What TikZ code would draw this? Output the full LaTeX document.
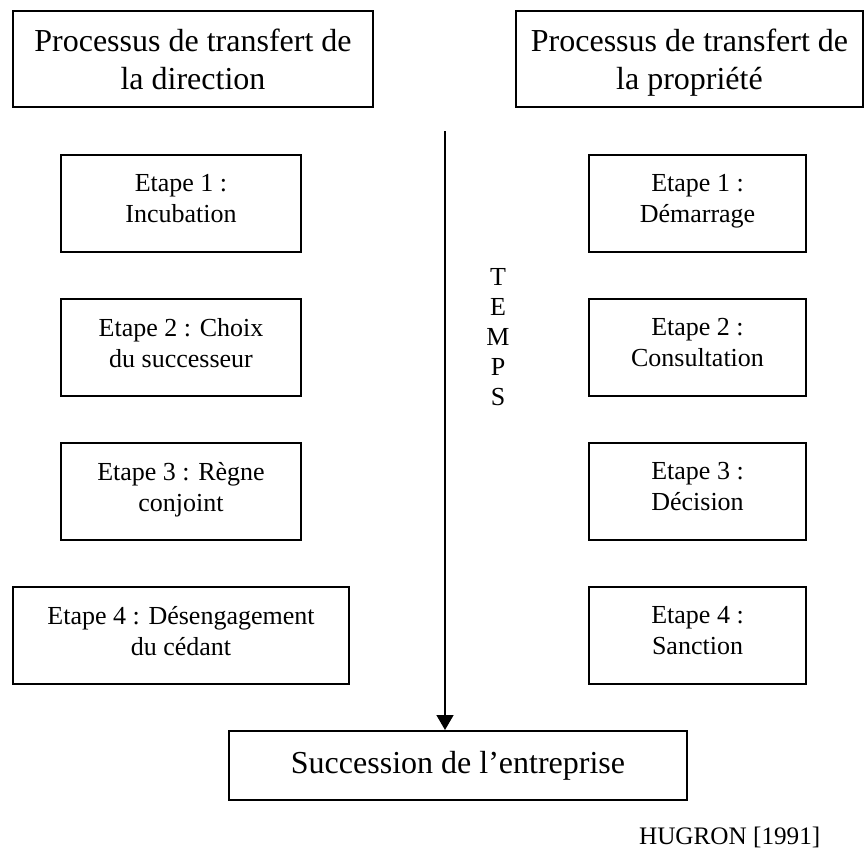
\documentclass[tikz,border=0pt]{standalone}
\usepackage{fontspec}
\setmainfont{Liberation Serif}
\usetikzlibrary{arrows.meta}
\begin{document}
\begin{tikzpicture}[x = 0.5pt, y = -0.5pt, node distance = 72pt, line width = 1pt,
    boite/.style = {draw, rectangle, align = center},
    titre/.style = {boite, minimum height = 48pt, font = \fontsize{16}{19}\selectfont, text depth = 0pt},
    etape/.style = {boite, minimum width = 120pt, minimum height = 48.5pt, font = \fontsize{13}{15.5}\selectfont,
      execute at begin node = \strut, execute at end node = \strut}]
    \useasboundingbox (0,0) rectangle (866,856);
    % les deux processus
    \node[titre, minimum width = 180pt] (dir) at (193,59) {Processus de transfert de\\la direction};
    \node[titre, minimum width = 173.5pt] (prop) at (689.5,59) {Processus de transfert de\\la propriété};
    % direction
    \node[etape] (d1) at (181,203.5) {Etape 1 :\\Incubation};
    \node[etape, below of = d1] (d2) {Etape 2 : Choix\\du successeur};
    \node[etape, below of = d2] (d3) {Etape 3 : Règne\\conjoint};
    \node[etape, below of = d3, minimum width = 168pt] (d4) {Etape 4 : Désengagement\\du cédant};
    % propriété
    \node[etape, minimum width = 108.5pt] (p1) at (697.5,203.5) {Etape 1 :\\Démarrage};
    \node[etape, below of = p1, minimum width = 108.5pt] (p2) {Etape 2 :\\Consultation};
    \node[etape, below of = p2, minimum width = 108.5pt] (p3) {Etape 3 :\\Décision};
    \node[etape, below of = p3, minimum width = 108.5pt] (p4) {Etape 4 :\\Sanction};
    % temps
    \node[boite, minimum width = 229pt, minimum height = 34.5pt, font = \fontsize{16}{19}\selectfont] (succ) at (458,765.5) {\strut Succession de l’entreprise};
    \coordinate (t0) at (445,131);
    \draw[line width = 0.75pt, -{Triangle[length = 7.5pt, width = 8.5pt]}] (t0) -- (succ.north -| t0);
    \node[align = center, font = \fontsize{13}{15}\selectfont] (temps) at (498,337) {T\\E\\M\\P\\S};
    \node[anchor = east, font = \fontsize{12.6}{15}\selectfont] (src) at (828,837) {HUGRON [1991]};
\end{tikzpicture}
\end{document}
